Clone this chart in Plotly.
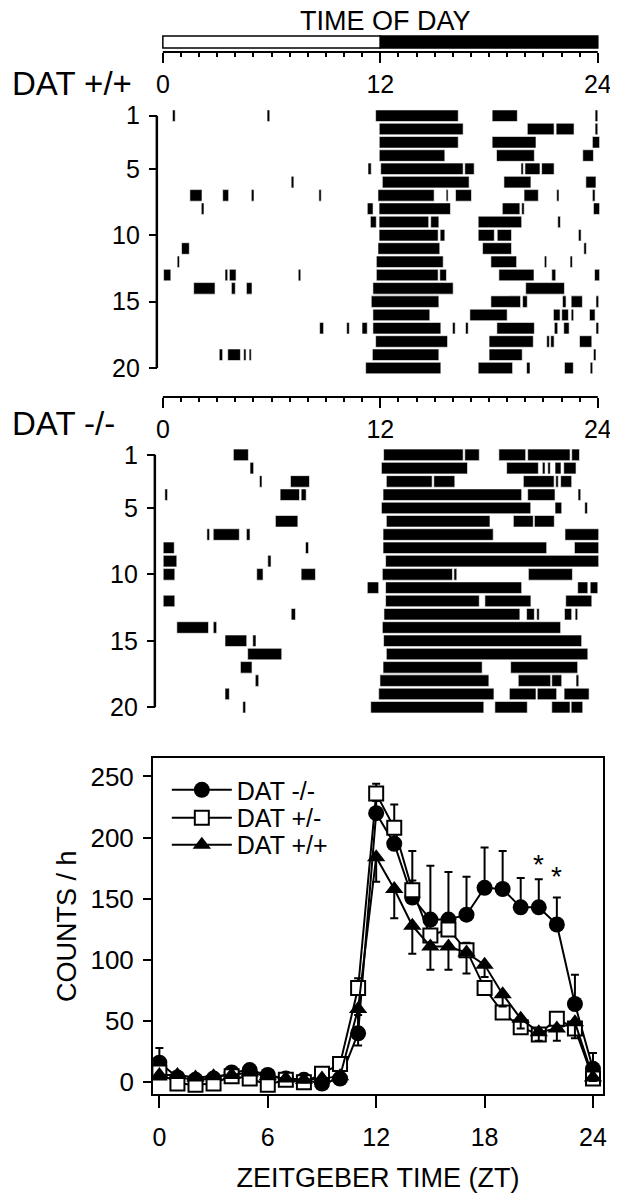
import plotly.graph_objects as go

# %% actogram data: per row (day 1..20) list of activity bouts (start h, end h)
wt_rows = [
    [(0.53, 0.68), (5.75, 5.9), (11.74, 16.3), (18.17, 19.56), (23.85, 24.0)],
    [(11.94, 16.57), (20.11, 21.59), (21.7, 22.69), (23.85, 24.0)],
    [(11.94, 16.3), (18.17, 20.59), (23.7, 24.1)],
    [(11.94, 15.56), (18.41, 20.5), (23.17, 23.76)],
    [(11.32, 11.5), (12.02, 16.57), (16.66, 17.18), (19.76, 19.89), (19.98, 20.81), (20.9, 21.59)],
    [(7.08, 7.23), (12.11, 16.9), (18.82, 20.31), (23.34, 23.9)],
    [(1.49, 2.16), (3.3, 3.63), (4.88, 5.03), (8.61, 8.74), (11.87, 14.97), (15.63, 15.74),
     (16.15, 17.03), (19.93, 20.72), (21.73, 21.86), (23.7, 23.85)],
    [(2.12, 2.27), (11.28, 11.6), (11.93, 15.87), (18.73, 19.7), (19.8, 19.94), (23.76, 24.1)],
    [(11.45, 11.78), (11.93, 14.67), (14.78, 15.23), (17.4, 19.8), (21.79, 21.94)],
    [(11.93, 15.19), (15.3, 15.56), (17.4, 18.29), (18.45, 19.24), (22.93, 23.08)],
    [(1.03, 1.46), (11.87, 15.28), (17.64, 19.24), (23.23, 23.37)],
    [(0.79, 0.92), (11.78, 15.47), (18.1, 19.52), (21.05, 21.18), (22.47, 22.6)],
    [(0.04, 0.44), (3.43, 3.58), (3.67, 4.04), (7.47, 7.61), (11.78, 15.19), (15.28, 15.65),
     (18.54, 20.48), (21.46, 21.68), (23.82, 24.1)],
    [(1.7, 2.88), (3.78, 4.0), (4.61, 4.92), (11.59, 16.02), (20.02, 22.16)],
    [(11.5, 15.23), (18.1, 19.74), (19.85, 20.11), (22.05, 22.25), (22.53, 23.15), (23.9, 24.05)],
    [(11.59, 14.73), (16.94, 19.0), (21.55, 21.92), (22.01, 22.38), (22.53, 22.67), (23.54, 23.85)],
    [(8.65, 8.87), (10.14, 10.29), (10.99, 11.28), (11.59, 15.34), (15.98, 16.13), (16.7, 16.85),
     (18.43, 20.5), (21.6, 21.79), (22.12, 22.42), (23.9, 24.05)],
    [(11.74, 15.71), (18.0, 20.44), (21.18, 21.33), (21.4, 21.59), (22.99, 23.67)],
    [(3.11, 3.3), (3.58, 4.28), (4.46, 4.59), (4.76, 4.88), (11.56, 15.23), (18.0, 19.83), (23.76, 23.9)],
    [(11.19, 15.34), (17.4, 19.3), (20.07, 20.26), (22.16, 22.65), (23.58, 23.72)],
]

ko_rows = [
    [(3.89, 4.72), (12.18, 16.57), (16.66, 17.46), (18.54, 20.02), (20.13, 22.47), (22.56, 22.99)],
    [(4.81, 5.01), (12.06, 16.81), (18.97, 20.72), (20.94, 21.09), (21.24, 21.38), (21.64, 21.97), (22.12, 22.8)],
    [(5.33, 5.47), (7.04, 8.09), (12.33, 14.86), (14.95, 16.11), (19.89, 21.59), (21.68, 21.82), (21.95, 22.56)],
    [(0.11, 0.26), (6.47, 7.54), (7.63, 7.91), (12.15, 19.8), (20.13, 21.64), (22.91, 23.06)],
    [(12.06, 20.3), (21.64, 22.01), (23.28, 23.43)],
    [(6.21, 7.45), (12.33, 18.05), (19.34, 20.44), (20.5, 21.6)],
    [(2.43, 2.58), (2.78, 4.22), (4.61, 4.81), (12.15, 18.23), (22.19, 24.05)],
    [(0.02, 0.63), (7.87, 8.04), (12.15, 21.18), (22.71, 24.05)],
    [(0.02, 0.77), (5.79, 5.97), (12.29, 24.05)],
    [(0.02, 0.66), (5.18, 5.53), (7.63, 8.42), (12.11, 15.98), (16.06, 16.22), (20.17, 22.6)],
    [(11.28, 11.91), (12.29, 19.8), (22.89, 23.45), (23.58, 24.0)],
    [(0.02, 0.66), (12.29, 17.46), (17.77, 20.31), (22.23, 23.67)],
    [(7.08, 7.32), (12.2, 19.7), (20.07, 20.5), (20.63, 20.77), (22.16, 22.56), (22.75, 22.89)],
    [(0.77, 2.52), (2.78, 2.97), (12.11, 21.95)],
    [(3.43, 4.63), (4.96, 5.14), (12.18, 23.11)],
    [(4.68, 6.56), (12.33, 23.45)],
    [(4.28, 4.92), (12.15, 17.62), (19.19, 22.89)],
    [(5.1, 5.29), (11.98, 17.99), (19.61, 21.4), (21.46, 22.01), (22.8, 22.95)],
    [(3.43, 3.67), (11.91, 18.27), (19.12, 20.59), (20.66, 21.73), (22.14, 23.52)],
    [(4.41, 4.57), (11.47, 17.71), (18.32, 20.11), (21.46, 22.47), (22.53, 23.17)],
]

row_ticks = [1, 5, 10, 15, 20]
light_dark = [(0, 12, 'white'), (12, 24, 'black')]

# %% hourly counts
zt = list(range(25))
ko_counts = [16, 4, 2, 3, 8, 10, 6, 3, 2, -1, 3, 40, 220, 195, 151, 133, 133, 137, 159, 158, 143, 143, 129, 64, 11]
ko_err = [12, 2, 2, 2, 3, 3, 3, 2, 2, 2, 3, 15, 10, 12, 38, 44, 39, 31, 33, 31, 24, 23, 22, 24, 13]
het_counts = [8, -1, -2, -1, 5, 3, -2, 2, 0, 7, 15, 77, 236, 208, 157, 120, 125, 108, 77, 57, 45, 39, 52, 44, 3]
het_err = [4, 2, 2, 2, 2, 2, 2, 2, 2, 3, 4, 8, 8, 19, 8, 10, 10, 6, 5, 5, 4, 4, 4, 4, 3]
wt_counts = [6, 6, 4, 5, 6, 8, 5, 3, 2, 3, 5, 60, 184, 158, 128, 111, 111, 106, 96, 72, 52, 41, 44, 49, 4]
wt_err = [3, 2, 2, 2, 2, 2, 2, 2, 2, 2, 3, 30, 20, 24, 23, 19, 19, 17, 10, 10, 8, 7, 10, 13, 3]
star_zt = [21, 22]
star_y = [178, 168]

FONT = 'Liberation Sans, Arial, sans-serif'
W, H = 618, 1200
# the page comes out offset and slightly squeezed sideways (measured off earlier renders)
X0, XW = 9.8, 608.5
Y0 = 8


def px(x):
    # screen pixel column -> paper x
    return (x - X0) / XW


def py(y):
    # screen pixel row -> paper y
    return 1 - (y - Y0) / H


def acto_bar(rows, xa, ya):
    ys, base, length = [], [], []
    for day, bouts in enumerate(rows, start=1):
        for s, e in bouts:
            ys.append(day)
            base.append(s)
            length.append(e - s)
    return go.Bar(y=ys, x=length, base=base, orientation='h', width=0.87,
                  marker=dict(color='black', line=dict(color='white', width=0.6)),
                  xaxis=xa, yaxis=ya, showlegend=False, hoverinfo='skip')


fig = go.Figure()
fig.add_trace(acto_bar(wt_rows, 'x', 'y'))
fig.add_trace(acto_bar(ko_rows, 'x2', 'y2'))

line_common = dict(mode='lines+markers', line=dict(color='black', width=2),
                   xaxis='x3', yaxis='y3')
fig.add_trace(go.Scatter(x=zt, y=ko_counts, name='DAT -/-', legend='legend',
                         marker=dict(symbol='circle', size=16, color='black'),
                         error_y=dict(type='data', symmetric=False, array=ko_err,
                                      arrayminus=[0] * 25, color='black', thickness=2, width=4),
                         **line_common))
fig.add_trace(go.Scatter(x=zt, y=het_counts, name='DAT +/-', legend='legend2',
                         marker=dict(symbol='square', size=14, color='white',
                                     line=dict(color='black', width=2)),
                         error_y=dict(type='data', symmetric=False, array=het_err,
                                      arrayminus=[0] * 25, color='black', thickness=2, width=4),
                         **line_common))
fig.add_trace(go.Scatter(x=zt, y=wt_counts, name='DAT +/+', legend='legend3',
                         marker=dict(symbol='triangle-up', size=16, color='black'),
                         error_y=dict(type='data', symmetric=False, array=[0] * 25,
                                      arrayminus=wt_err, color='black', thickness=2, width=4),
                         **line_common))

tickfont = dict(family=FONT, size=25, color='black')
acto_x = dict(domain=[px(158.4), px(603.5)], range=[-0.2, 24.3], anchor='free',
              side='bottom', tickmode='linear', tick0=0, dtick=12, ticks='outside',
              ticklen=10, tickwidth=2, tickcolor='black', showline=False,
              showgrid=False, zeroline=False, tickfont=tickfont, fixedrange=True,
              minor=dict(tickmode='linear', tick0=0, dtick=1, ticks='outside',
                         ticklen=4, tickwidth=1.5, tickcolor='black'))
acto_y = dict(range=[20.83, -0.2], anchor='free', tickmode='array', tickvals=row_ticks,
              ticks='outside', ticklen=8, tickwidth=2, tickcolor='black',
              showline=False, showgrid=False, zeroline=False, tickfont=tickfont,
              ticklabelstandoff=4)
legend_common = dict(x=px(166), xanchor='left', yanchor='middle',
                     font=dict(family=FONT, size=25), bgcolor='rgba(0,0,0,0)',
                     itemwidth=60)

fig.update_layout(
    width=W, height=H, margin=dict(l=0, r=0, t=0, b=0),
    paper_bgcolor='white', plot_bgcolor='rgba(0,0,0,0)',
    barmode='overlay', font=dict(family=FONT, color='black'),
    xaxis=dict(acto_x, position=py(52)),
    yaxis=dict(acto_y, domain=[py(380), py(100)], position=px(156)),
    xaxis2=dict(acto_x, position=py(398)),
    yaxis2=dict(acto_y, domain=[py(720), py(440)], position=px(154)),
    xaxis3=dict(domain=[px(152.2), px(603)], range=[-0.35, 24.54], anchor='y3',
                tickmode='linear', tick0=0, dtick=6, ticks='outside', ticklen=12,
                tickwidth=2, tickcolor='black', showline=True, linewidth=2,
                linecolor='black', mirror=True, showgrid=False, zeroline=False,
                tickfont=tickfont, ticklabelstandoff=8,
                title=dict(text='ZEITGEBER TIME (ZT)', font=dict(family=FONT, size=27),
                           standoff=18)),
    yaxis3=dict(domain=[py(1097), py(760)], range=[-9.8, 265], anchor='x3',
                tickmode='linear', tick0=0, dtick=50, ticks='outside', ticklen=8,
                tickwidth=2, tickcolor='black', showline=True, linewidth=2,
                linecolor='black', mirror=True, showgrid=False, zeroline=False,
                tickfont=dict(tickfont, size=26), ticklabelstandoff=4,
                title=dict(text='COUNTS / h', font=dict(family=FONT, size=27),
                           standoff=6)),
    legend=dict(legend_common, y=py(792)),
    legend2=dict(legend_common, y=py(820)),
    legend3=dict(legend_common, y=py(847)),
)

# light/dark bar and axis lines of the actograms
for s, e, col in light_dark:
    fig.add_shape(type='rect', xref='x', yref='paper', x0=s, x1=e, y0=py(48), y1=py(36),
                  fillcolor=col, line=dict(color='black', width=1.5))
for xa, ypos in (('x', 52), ('x2', 398)):
    fig.add_shape(type='line', xref=xa, yref='paper', x0=0, x1=24, y0=py(ypos), y1=py(ypos),
                  line=dict(color='black', width=2))
for ya, xpos in (('y', 156), ('y2', 154)):
    fig.add_shape(type='line', xref='paper', yref=ya, x0=px(xpos), x1=px(xpos),
                  y0=row_ticks[0], y1=row_ticks[-1], line=dict(color='black', width=2.5))

fig.add_annotation(text='TIME OF DAY', x=px(385), y=py(21), xref='paper', yref='paper',
                   xanchor='center', yanchor='middle', showarrow=False,
                   font=dict(family=FONT, size=27))
fig.add_annotation(text='DAT +/+', x=px(10), y=py(84), xref='paper', yref='paper',
                   xanchor='left', yanchor='middle', showarrow=False, borderpad=0,
                   font=dict(family=FONT, size=33))
fig.add_annotation(text='DAT -/-', x=px(10), y=py(425), xref='paper', yref='paper',
                   xanchor='left', yanchor='middle', showarrow=False, borderpad=0,
                   font=dict(family=FONT, size=33))
for sx, sy in zip(star_zt, star_y):
    fig.add_annotation(text='*', x=sx, y=sy, xref='x3', yref='y3', showarrow=False,
                       font=dict(family=FONT, size=28))

fig.write_html('out.html')
